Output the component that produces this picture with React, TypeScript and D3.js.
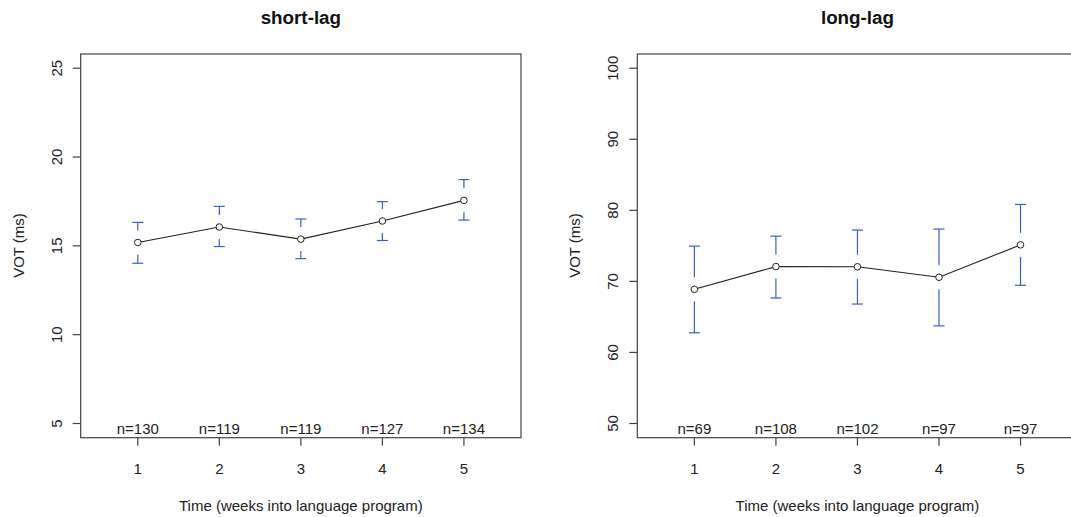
import React from "react";
import * as d3 from "d3";

const weeks = [1, 2, 3, 4, 5];

const shortMeans = [15.19, 16.06, 15.38, 16.4, 17.56];
const shortUpper = [16.32, 17.22, 16.51, 17.49, 18.73];
const shortLower = [14.02, 14.96, 14.28, 15.3, 16.45];
const shortN = [130, 119, 119, 127, 134];
const shortYTicks = [5, 10, 15, 20, 25];

const longMeans = [68.88, 72.08, 72.05, 70.58, 75.14];
const longUpper = [74.96, 76.37, 77.22, 77.36, 80.83];
const longLower = [62.76, 67.66, 66.81, 63.74, 69.45];
const longN = [69, 108, 102, 97, 97];
const longYTicks = [50, 60, 70, 80, 90, 100];

const titles = ["short-lag", "long-lag"];
const xLabel = "Time (weeks into language program)";
const yLabel = "VOT (ms)";

const W = 1071;
const H = 517;
const TOP = 54;
const BOTTOM = 437.7;
const BOX_W = 440.3;
const LEFTS = [80.7, 637.3];
const FONT = "'Liberation Sans', Arial, sans-serif";
const AXIS_COL = "#444";
const TEXT_COL = "#222";
const BAR_COL = "#3c5fc4";
const GAP = 12;
const CAP = 5.5;
const FS = 15;

type PanelProps = {
  left: number;
  title: string;
  means: number[];
  upper: number[];
  lower: number[];
  ns: number[];
  yTicks: number[];
  yDomain: [number, number];
};

function Panel({ left, title, means, upper, lower, ns, yTicks, yDomain }: PanelProps) {
  const x = d3.scaleLinear().domain([0.3, 5.7]).range([left, left + BOX_W]);
  const y = d3.scaleLinear().domain(yDomain).range([BOTTOM, TOP]);
  const cx = left + BOX_W / 2;
  const line = d3
    .line<number>()
    .x((_, i) => x(weeks[i]))
    .y((d) => y(d));
  const r = 3.3;
  return (
    <g fontFamily={FONT}>
      <text x={cx} y={23.5} textAnchor="middle" fontWeight="bold" fontSize={18.8} fill="#111">
        {title}
      </text>
      <rect x={left} y={TOP} width={BOX_W} height={BOTTOM - TOP} fill="none" stroke={AXIS_COL} strokeWidth={1.2} />
      {yTicks.map((t) => (
        <g key={"y" + t}>
          <line x1={left - 8} x2={left} y1={y(t)} y2={y(t)} stroke={AXIS_COL} strokeWidth={1.2} />
          <text
            transform={`translate(${left - 24.5},${y(t)}) rotate(-90)`}
            textAnchor="middle"
            dominantBaseline="central"
            fontSize={FS}
            fill={TEXT_COL}
          >
            {t}
          </text>
        </g>
      ))}
      <text
        transform={`translate(${left - 62.4},245.5) rotate(-90)`}
        textAnchor="middle"
        dominantBaseline="central"
        fontSize={FS}
        fill={TEXT_COL}
      >
        {yLabel}
      </text>
      {weeks.map((w) => (
        <g key={"x" + w}>
          <line x1={x(w)} x2={x(w)} y1={BOTTOM} y2={BOTTOM + 8} stroke={AXIS_COL} strokeWidth={1.2} />
          <text x={x(w)} y={473.5} textAnchor="middle" fontSize={FS} fill={TEXT_COL}>
            {w}
          </text>
        </g>
      ))}
      <text x={cx} y={510.5} textAnchor="middle" fontSize={FS} fill={TEXT_COL}>
        {xLabel}
      </text>
      {ns.map((n, i) => (
        <text key={"n" + i} x={x(weeks[i])} y={434} textAnchor="middle" fontSize={FS} fill={TEXT_COL}>
          {"n=" + n}
        </text>
      ))}
      {means.map((m, i) => {
        const px = x(weeks[i]);
        const yc = y(m);
        const yu = y(upper[i]);
        const yl = y(lower[i]);
        return (
          <g key={"e" + i} stroke={BAR_COL} strokeWidth={1.2}>
            {yc - GAP > yu && <line x1={px} x2={px} y1={yu} y2={yc - GAP} />}
            {yc + GAP < yl && <line x1={px} x2={px} y1={yc + GAP} y2={yl} />}
            <line x1={px - CAP} x2={px + CAP} y1={yu} y2={yu} />
            <line x1={px - CAP} x2={px + CAP} y1={yl} y2={yl} />
          </g>
        );
      })}
      <path d={line(means) || ""} fill="none" stroke="#222" strokeWidth={1.1} />
      {means.map((m, i) => (
        <circle key={"c" + i} cx={x(weeks[i])} cy={y(m)} r={r} fill="white" stroke="#222" strokeWidth={1} />
      ))}
    </g>
  );
}

export default function App() {
  return (
    <svg width={W} height={H} style={{ position: "absolute", left: 0, top: 0, background: "white" }}>
      <rect x={0} y={0} width={W} height={H} fill="white" />
      <Panel
        left={LEFTS[0]}
        title={titles[0]}
        means={shortMeans}
        upper={shortUpper}
        lower={shortLower}
        ns={shortN}
        yTicks={shortYTicks}
        yDomain={[4.2, 25.8]}
      />
      <Panel
        left={LEFTS[1]}
        title={titles[1]}
        means={longMeans}
        upper={longUpper}
        lower={longLower}
        ns={longN}
        yTicks={longYTicks}
        yDomain={[48, 102]}
      />
    </svg>
  );
}
